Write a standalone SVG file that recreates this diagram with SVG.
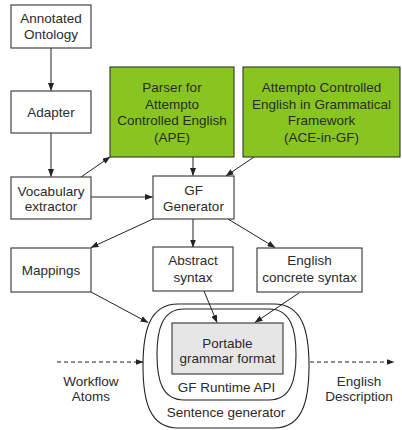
<svg xmlns="http://www.w3.org/2000/svg" width="402" height="430" viewBox="0 0 402 430">
  <style>
    .box { fill: #ffffff; stroke: #333333; stroke-width: 1.1; }
    .green { fill: #88c520; stroke: #333333; stroke-width: 1.1; }
    .grey { fill: #e6e6e6; stroke: #333333; stroke-width: 1.1; }
    .shell { fill: none; stroke: #222222; stroke-width: 1.1; }
    .edge { fill: none; stroke: #222222; stroke-width: 1; marker-end: url(#arrow); }
    .dash { stroke-dasharray: 4 3; }
    text { font-family: "Liberation Sans", Arial, Helvetica, sans-serif; font-size: 13.5px; fill: #2b2b2b; text-anchor: middle; }
  </style>
  <defs>
    <marker id="arrow" markerUnits="userSpaceOnUse" markerWidth="8" markerHeight="6" refX="7.5" refY="3" orient="auto">
      <path d="M0,0 L8,3 L0,6 Z" fill="#222222"/>
    </marker>
  </defs>

  <!-- connectors -->
  <g id="connectors">
    <line class="edge" x1="51" y1="48" x2="51" y2="90.5"/>
    <line class="edge" x1="51" y1="133" x2="51" y2="176.5"/>
    <line class="edge" x1="81" y1="177" x2="110" y2="157"/>
    <line class="edge" x1="91" y1="197" x2="152.5" y2="197"/>
    <line class="edge" x1="193" y1="157" x2="193" y2="175.5"/>
    <line class="edge" x1="254" y1="157" x2="226" y2="176"/>
    <line class="edge" x1="153" y1="219" x2="91" y2="247.5"/>
    <line class="edge" x1="193" y1="219" x2="193" y2="247"/>
    <line class="edge" x1="228" y1="219" x2="275" y2="247.5"/>
    <line class="edge" x1="91" y1="292" x2="148" y2="322.5"/>
    <line class="edge" x1="204" y1="291" x2="217" y2="322.5"/>
    <line class="edge" x1="299" y1="293" x2="255" y2="322.5"/>
    <line class="edge dash" x1="57" y1="362" x2="143" y2="362"/>
    <line class="edge dash" x1="310" y1="362" x2="394" y2="362"/>
  </g>

  <g id="annotated-ontology">
    <rect class="box" x="11" y="5" width="80" height="43"/>
    <text x="51" y="23">Annotated</text>
    <text x="51" y="38.5">Ontology</text>
  </g>

  <g id="adapter">
    <rect class="box" x="11" y="91" width="80" height="42"/>
    <text x="51" y="116.5">Adapter</text>
  </g>

  <g id="vocabulary-extractor">
    <rect class="box" x="11" y="177" width="80" height="42"/>
    <text x="51" y="195.5">Vocabulary</text>
    <text x="51" y="211">extractor</text>
  </g>

  <g id="ape">
    <rect class="green" x="110" y="67" width="124" height="90"/>
    <text x="172" y="92">Parser for</text>
    <text x="172" y="108.5">Attempto</text>
    <text x="172" y="125">Controlled English</text>
    <text x="172" y="141.5">(APE)</text>
  </g>

  <g id="ace-in-gf">
    <rect class="green" x="243" y="67" width="157" height="90"/>
    <text x="321.5" y="92">Attempto Controlled</text>
    <text x="321.5" y="108.5">English in Grammatical</text>
    <text x="321.5" y="125">Framework</text>
    <text x="321.5" y="141.5">(ACE-in-GF)</text>
  </g>

  <g id="gf-generator">
    <rect class="box" x="153" y="176" width="81" height="43"/>
    <text x="193.5" y="194.5">GF</text>
    <text x="193.5" y="211">Generator</text>
  </g>

  <g id="mappings">
    <rect class="box" x="11" y="248" width="80" height="44"/>
    <text x="51" y="275">Mappings</text>
  </g>

  <g id="abstract-syntax">
    <rect class="box" x="153" y="247" width="80" height="44"/>
    <text x="193" y="264.5">Abstract</text>
    <text x="193" y="281.5">syntax</text>
  </g>

  <g id="english-concrete-syntax">
    <rect class="box" x="257" y="248" width="105" height="44"/>
    <text x="309.5" y="264.5">English</text>
    <text x="309.5" y="281.5">concrete syntax</text>
  </g>

  <g id="sentence-generator">
    <path class="shell" d="M178,304 H274 C302,304 309,330 309,366 C309,402 302,428 274,428 H178 C150,428 143,402 143,366 C143,330 150,304 178,304 Z"/>
    <text x="226" y="417">Sentence generator</text>
  </g>

  <g id="gf-runtime-api">
    <path class="shell" d="M184,309 H269 C291,309 296,330 296,354.5 C296,380 291,400 269,400 H184 C162,400 157,380 157,354.5 C157,330 162,309 184,309 Z"/>
    <text x="226.5" y="392">GF Runtime API</text>
  </g>

  <g id="portable-grammar-format">
    <rect class="grey" x="172" y="323" width="111" height="51"/>
    <text x="227.5" y="347.5">Portable</text>
    <text x="227.5" y="363">grammar format</text>
  </g>

  <g id="workflow-atoms">
    <text x="91" y="385.5">Workflow</text>
    <text x="91" y="400.5">Atoms</text>
  </g>

  <g id="english-description">
    <text x="359" y="385.5">English</text>
    <text x="359" y="400.5">Description</text>
  </g>
</svg>
